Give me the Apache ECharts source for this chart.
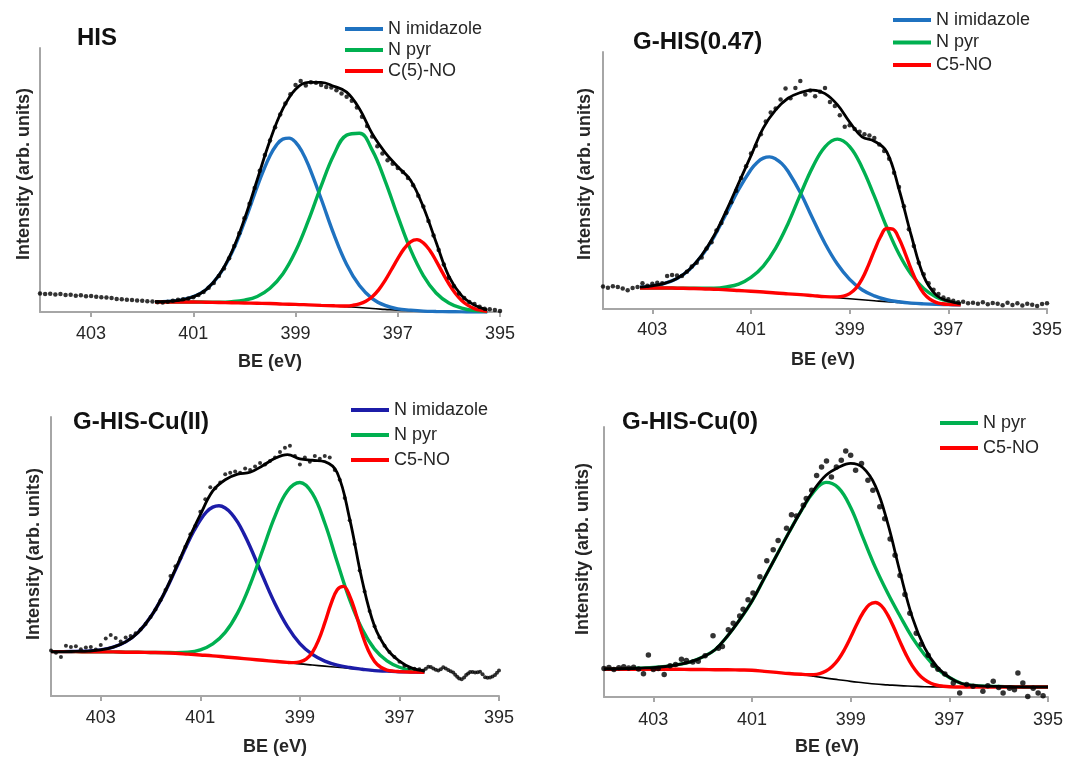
<!DOCTYPE html>
<html><head><meta charset="utf-8">
<script src="https://cdn.jsdelivr.net/npm/echarts@6/dist/echarts.min.js"></script>
<style>html,body{margin:0;padding:0;background:#fff}#c{width:1081px;height:757px}</style>
</head><body><div id="c"></div>
<script>
// ---------- DATA ----------
const tickValues = [395, 397, 399, 401, 403];
const panelTitles = ['HIS', 'G-HIS(0.47)', 'G-HIS-Cu(II)', 'G-HIS-Cu(0)'];
const xAxisName = 'BE (eV)';
const yAxisName = 'Intensity (arb. units)';

// Panel 1: HIS
const be1 = [401.75,401.5,401.25,401,400.75,400.5,400.25,400,399.75,399.5,399.25,399,398.75,398.5,398.25,398,397.75,397.5,397.25,397,396.75,396.5,396.25,396,395.75,395.5,395.25];
const bg1 = [3.8,3.8,3.8,3.8,3.7,3.6,3.5,3.4,3.3,3.2,3.0,2.9,2.7,2.5,2.3,2.0,1.7,1.3,1.0,0.7,0.5,0.3,0.2,0.1,0.05,0,0];
const imidX1 = [401.75,401.5,401.25,401,400.75,400.5,400.25,400,399.75,399.625,399.5,399.375,399.25,399.125,399,398.875,398.75,398.5,398.25,398,397.75,397.5,397.25,397,396.75,396.5,396.25,396,395.75,395.5,395.25];
const imid1 = [3.9,4.0,4.5,5.8,8.5,13.8,22.3,34.1,47.5,53.75,59.2,63.2,65.5,65.85,64.3,60.8,55.7,42.9,29.4,18.0,10.0,5.1,2.5,1.2,0.7,0.35,0.2,0.1,0.05,0,0];
const pyr1 = [3.8,3.8,3.8,3.8,3.75,3.7,3.9,4.5,5.9,9.0,14.4,23.0,34.6,47.7,59.6,67.0,67.7,61.3,49.8,36.3,23.6,13.8,7.2,3.4,1.45,0.5,0.17];
const noX1 = [401.75,401.5,401.25,401,400.75,400.5,400.25,400,399.75,399.5,399.25,399,398.75,398.5,398.25,398.125,398,397.875,397.75,397.625,397.5,397.375,397.25,397.125,397,396.875,396.75,396.625,396.5,396.375,396.25,396.125,396,395.875,395.75,395.625,395.5,395.375,395.25];
const no1 = [3.8,3.8,3.8,3.8,3.7,3.6,3.5,3.4,3.3,3.2,3.0,2.9,2.7,2.5,2.35,2.3,2.3,2.55,3.1,4.1,5.8,8.4,11.9,16.0,20.2,24.0,26.6,27.4,26.2,23.4,19.4,14.9,10.7,7.1,4.35,2.5,1.3,0.65,0.3];
const env1 = [3.9,4.0,4.5,5.8,8.5,13.9,22.7,35.2,50.1,65.0,76.9,84.4,87.0,87.0,85.5,83.3,77.0,67.5,60.5,55.0,49.9,39.8,26.4,13.5,6.2,2.6,0.8];
const dots1 = [[404.0,7.0],[403.9,6.8],[403.8,6.9],[403.7,6.6],[403.6,6.8],[403.5,6.4],[403.4,6.5],[403.3,6.2],[403.2,6.3],[403.1,6.0],[403.0,6.1],[402.9,5.8],[402.8,5.6],[402.7,5.5],[402.6,5.3],[402.5,4.9],[402.4,4.8],[402.3,4.6],[402.2,4.5],[402.1,4.4],[402.0,4.3],[401.9,4.1],[401.8,4.0],[401.7,3.7],[401.6,3.6],[401.5,3.9],[401.4,4.3],[401.3,4.6],[401.2,4.8],[401.1,5.1],[401.0,5.6],[400.9,6.4],[400.8,7.6],[400.7,9.2],[400.6,11.0],[400.5,13.6],[400.4,16.5],[400.3,20.4],[400.2,25.0],[400.1,29.8],[400.0,35.5],[399.9,41.0],[399.8,47.0],[399.7,53.5],[399.6,59.5],[399.5,65.0],[399.4,70.0],[399.3,74.8],[399.2,79.0],[399.1,82.5],[399.0,86.0],[398.9,87.5],[398.8,85.8],[398.7,87.0],[398.6,86.8],[398.5,86.0],[398.4,85.2],[398.3,85.0],[398.2,84.0],[398.1,82.8],[398.0,81.5],[397.9,80.0],[397.8,77.5],[397.7,74.0],[397.6,70.5],[397.5,66.5],[397.4,62.8],[397.3,60.0],[397.2,57.5],[397.1,56.2],[397.0,54.5],[396.9,53.0],[396.8,50.8],[396.7,48.0],[396.6,44.0],[396.5,40.0],[396.4,34.5],[396.3,29.0],[396.2,23.5],[396.1,18.0],[396.0,13.0],[395.9,9.8],[395.8,7.0],[395.7,5.3],[395.6,3.8],[395.5,3.0],[395.4,2.0],[395.3,1.2],[395.2,1.0],[395.1,0.8],[395.0,0.4]];

// Panel 2: G-HIS(0.47)
const be2 = [403.25,403,402.75,402.5,402.25,402,401.75,401.5,401.25,401,400.75,400.5,400.25,400,399.75,399.5,399.25,399,398.75,398.5,398.25,398,397.75,397.5,397.25,397,396.75];
const bg2 = [8.2,8.2,8.2,8.1,8.0,7.9,7.7,7.5,7.2,6.9,6.6,6.2,5.9,5.6,5.2,4.8,4.4,4.0,3.6,3.2,2.8,2.5,2.2,2.0,1.8,1.7,1.6];
const imidX2 = [403.25,403,402.75,402.5,402.25,402,401.75,401.5,401.25,401,400.875,400.75,400.625,400.5,400.375,400.25,400,399.75,399.5,399.25,399,398.75,398.5,398.25,398,397.75,397.5,397.25,397,396.75];
const imid2 = [8.5,9.0,10.0,11.9,15.3,20.7,28.1,37.2,46.5,54.3,57.05,58.7,59.2,58.4,56.55,53.6,45.3,35.2,25.5,17.5,11.5,7.5,5.1,3.6,2.8,2.3,2.0,1.8,1.7,1.6];
const pyr2 = [8.2,8.2,8.2,8.1,8.05,8.05,8.1,8.6,9.7,12.3,16.7,23.7,33.2,44.5,55.2,63.1,66.1,63.2,55.1,43.9,31.9,21.4,13.4,8.0,4.7,3.0,2.1];
const noX2 = [403.25,403,402.75,402.5,402.25,402,401.75,401.5,401.25,401,400.75,400.5,400.25,400,399.75,399.5,399.25,399.125,399,398.875,398.75,398.625,398.5,398.375,398.25,398.125,398,397.875,397.75,397.625,397.5,397.375,397.25,397.125,397,396.75];
const no2 = [8.2,8.2,8.2,8.1,8.0,7.9,7.7,7.5,7.2,6.9,6.6,6.2,5.9,5.6,5.2,4.8,4.7,5.0,6.0,8.0,11.6,16.8,22.7,28.1,31.3,31.05,27.4,21.65,15.3,10.0,6.1,3.8,2.6,2.05,1.8,1.6];
const env2 = [8.5,9.0,10.0,11.9,15.4,20.9,28.5,38.3,49.0,59.7,70.5,77.5,82.0,84.2,85.2,83.8,79.5,72.7,67.0,65.3,61.2,46.6,28.5,12.8,5.5,3.1,2.1];
const dots2 = [[404.0,8.8],[403.9,8.3],[403.8,8.9],[403.7,8.6],[403.6,8.0],[403.5,7.3],[403.4,8.2],[403.3,8.6],[403.2,10.0],[403.1,9.0],[403.0,9.8],[402.9,10.2],[402.8,10.0],[402.7,12.8],[402.6,13.2],[402.5,13.0],[402.4,12.8],[402.3,14.5],[402.2,16.5],[402.1,18.0],[402.0,20.0],[401.9,23.5],[401.8,26.0],[401.7,30.5],[401.6,33.5],[401.5,37.5],[401.4,41.5],[401.3,46.0],[401.2,51.0],[401.1,55.5],[401.0,60.5],[400.9,63.5],[400.8,68.0],[400.7,73.0],[400.6,76.5],[400.5,78.0],[400.4,81.5],[400.3,85.8],[400.2,82.0],[400.1,86.0],[400.0,88.7],[399.9,83.5],[399.8,85.0],[399.7,82.8],[399.6,84.5],[399.5,86.0],[399.4,80.5],[399.3,79.0],[399.2,75.4],[399.1,70.9],[399.0,71.5],[398.9,70.0],[398.8,69.0],[398.7,68.0],[398.6,67.5],[398.5,66.5],[398.4,64.0],[398.3,61.5],[398.2,58.5],[398.1,53.0],[398.0,47.5],[397.9,40.0],[397.8,31.0],[397.7,24.5],[397.6,18.0],[397.5,13.5],[397.4,10.0],[397.3,7.5],[397.2,5.8],[397.1,4.5],[397.0,3.8],[396.9,3.2],[396.8,2.6],[396.7,2.8],[396.6,2.2],[396.5,2.4],[396.4,2.0],[396.3,2.6],[396.2,1.8],[396.1,2.3],[396.0,2.0],[395.9,1.5],[395.8,2.4],[395.7,1.6],[395.6,2.2],[395.5,1.4],[395.4,2.0],[395.3,1.7],[395.2,1.2],[395.1,1.9],[395.0,2.2]];

// Panel 3: G-HIS-Cu(II)
const be3 = [404,403.75,403.5,403.25,403,402.75,402.5,402.25,402,401.75,401.5,401.25,401,400.75,400.5,400.25,400,399.75,399.5,399.25,399,398.75,398.5,398.25,398,397.75,397.5,397.25,397,396.75,396.5];
const bg3 = [15.9,15.9,15.9,15.8,15.8,15.8,15.7,15.7,15.6,15.5,15.3,15.0,14.7,14.4,14.0,13.6,13.2,12.8,12.4,12.0,11.5,11.1,10.7,10.3,9.9,9.5,9.1,8.9,8.7,8.6,8.5];
const imidX3 = [404,403.75,403.5,403.25,403,402.75,402.5,402.25,402,401.75,401.5,401.25,401.125,401,400.875,400.75,400.625,400.5,400.375,400.25,400.125,400,399.75,399.5,399.25,399,398.75,398.5,398.25,398,397.75,397.5,397.25,397,396.75,396.5];
const imid3 = [15.9,15.9,16.0,16.1,16.5,17.5,19.4,22.8,28.3,35.9,45.2,54.9,59.3,63.1,66.0,67.7,68.2,67.4,65.4,62.3,58.2,53.5,43.1,33.1,24.9,18.8,14.9,12.5,11.05,10.2,9.6,9.1,8.9,8.7,8.6,8.5];
const pyr3 = [15.9,15.9,15.9,15.8,15.8,15.8,15.7,15.7,15.6,15.6,15.55,15.7,16.55,18.7,22.8,29.8,39.9,52.2,64.5,73.5,76.5,72.6,62.0,48.0,34.5,24.0,16.8,12.6,10.3,9.2,8.7];
const noX3 = [404,403.75,403.5,403.25,403,402.75,402.5,402.25,402,401.75,401.5,401.25,401,400.75,400.5,400.25,400,399.75,399.5,399.25,399.125,399,398.875,398.75,398.625,398.5,398.375,398.25,398.125,398,397.875,397.75,397.625,397.5,397.375,397.25,397.125,397,396.75,396.5];
const no3 = [15.9,15.9,15.9,15.8,15.8,15.8,15.7,15.7,15.6,15.5,15.3,15.0,14.7,14.4,14.0,13.6,13.2,12.8,12.4,12.05,11.95,12.2,13.2,15.6,20.0,26.2,33.0,38.1,39.3,35.9,29.5,22.2,16.3,12.4,10.3,9.3,8.9,8.75,8.6,8.5];
const env3 = [15.9,15.9,16.0,16.1,16.5,17.5,19.4,22.8,28.3,36.0,45.5,55.6,65.0,73.5,77.5,79.5,80.2,82.5,85.2,86.5,85.0,84.5,84.0,80.0,63.5,41.5,25.0,16.8,12.5,10.0,9.0];
const dots3 = [[404.0,16.3],[403.9,15.5],[403.8,14.0],[403.7,18.0],[403.6,17.6],[403.5,17.8],[403.4,16.8],[403.3,17.4],[403.2,17.6],[403.1,16.7],[403.0,18.3],[402.9,20.6],[402.8,21.9],[402.7,20.8],[402.6,19.5],[402.5,21.0],[402.4,21.5],[402.3,22.5],[402.2,23.8],[402.1,25.8],[402.0,28.3],[401.9,31.0],[401.8,34.3],[401.7,38.0],[401.6,43.0],[401.5,46.5],[401.4,49.5],[401.3,53.5],[401.2,58.0],[401.1,61.0],[401.0,66.0],[400.9,70.5],[400.8,74.8],[400.7,74.5],[400.6,76.5],[400.5,79.5],[400.4,80.0],[400.3,80.5],[400.2,80.0],[400.1,81.5],[400.0,81.0],[399.9,82.3],[399.8,83.5],[399.7,83.0],[399.6,84.2],[399.5,85.5],[399.4,87.5],[399.3,89.0],[399.2,89.7],[399.1,86.0],[399.0,83.0],[398.9,85.5],[398.8,84.0],[398.7,86.0],[398.6,85.0],[398.5,86.0],[398.4,85.5],[398.3,81.0],[398.2,77.5],[398.1,71.0],[398.0,63.0],[397.9,54.5],[397.8,45.0],[397.7,37.5],[397.6,30.5],[397.5,25.0],[397.4,21.0],[397.3,18.0],[397.2,15.8],[397.1,14.0],[397.0,12.3],[396.9,10.8],[396.8,10.0],[396.7,9.8],[396.6,9.6],[396.52,9.1],[396.47,9.8],[396.42,10.5],[396.37,10.4],[396.32,9.9],[396.27,9.4],[396.22,9.1],[396.17,9.6],[396.12,10.3],[396.07,9.9],[396.02,9.3],[395.97,8.9],[395.92,8.4],[395.88,7.6],[395.84,6.9],[395.8,6.3],[395.75,6.0],[395.7,6.6],[395.66,7.5],[395.62,8.1],[395.58,8.6],[395.53,8.6],[395.48,8.4],[395.43,8.5],[395.38,8.7],[395.33,7.8],[395.28,6.7],[395.23,6.5],[395.18,6.6],[395.13,7.0],[395.08,7.5],[395.04,8.3],[395.0,9.1]];

// Panel 4: G-HIS-Cu(0)
const be4 = [404,403.75,403.5,403.25,403,402.75,402.5,402.25,402,401.75,401.5,401.25,401,400.75,400.5,400.25,400,399.75,399.5,399.25,399,398.75,398.5,398.25,398,397.75,397.5,397.25,397,396.75,396.5,396.25,396,395.75,395.5,395.25,395];
const bg4 = [10.3,10.3,10.3,10.3,10.3,10.3,10.3,10.2,10.2,10.1,10.1,10.0,9.9,9.5,9.1,8.7,8.3,7.7,7.0,6.4,5.8,5.3,4.8,4.5,4.2,4.0,3.8,3.75,3.7,3.7,3.7,3.7,3.7,3.7,3.7,3.7,3.7];
const pyr4 = [10.3,10.4,10.5,10.7,10.9,11.3,12.0,13.0,14.8,17.5,22.5,28.6,35.5,44.0,52.5,61.0,69.0,76.0,79.5,77.5,70.2,59.0,48.0,38.5,30.0,22.0,15.6,10.6,7.2,5.0,4.3,4.0,3.9,3.8,3.7,3.7,3.7];
const noX4 = [404,403.75,403.5,403.25,403,402.75,402.5,402.25,402,401.75,401.5,401.25,401,400.75,400.5,400.25,400,399.875,399.75,399.625,399.5,399.375,399.25,399.125,399,398.875,398.75,398.625,398.5,398.375,398.25,398.125,398,397.875,397.75,397.625,397.5,397.375,397.25,397.125,397,396.75,396.5,396.25,396,395.75,395.5,395.25,395];
const no4 = [10.3,10.3,10.3,10.3,10.3,10.3,10.3,10.2,10.2,10.1,10.1,10.0,9.9,9.5,9.1,8.7,8.4,8.3,8.3,8.65,9.6,11.3,13.9,17.6,22.1,26.95,31.2,34.15,35.0,33.75,30.4,25.75,20.5,15.6,11.5,8.5,6.4,5.1,4.35,4.0,3.8,3.7,3.7,3.7,3.7,3.7,3.7,3.7,3.7];
const env4 = [10.3,10.4,10.5,10.7,10.9,11.3,12.0,13.0,14.8,17.5,22.5,28.6,35.5,44.0,52.5,61.0,69.1,76.6,82.1,85.0,86.5,84.9,78.2,64.4,46.3,29.5,18.2,11.2,7.3,5.0,4.3,4.0,3.9,3.8,3.7,3.7,3.7];
const dots4 = [[404.0,10.6],[403.9,10.9],[403.8,10.2],[403.7,10.8],[403.6,11.2],[403.5,10.7],[403.4,11.0],[403.3,10.4],[403.2,8.6],[403.1,15.6],[403.0,10.2],[402.9,10.6],[402.78,8.3],[402.66,11.6],[402.55,12.0],[402.43,14.0],[402.33,13.5],[402.2,13.0],[402.09,13.2],[401.95,15.3],[401.79,22.7],[401.68,18.1],[401.6,18.7],[401.48,24.9],[401.38,27.3],[401.25,30.0],[401.18,32.5],[401.08,36.0],[400.98,38.5],[400.84,44.5],[400.7,50.5],[400.57,54.5],[400.47,58.0],[400.3,62.5],[400.2,67.5],[400.1,67.0],[399.96,71.0],[399.9,73.5],[399.79,76.6],[399.69,82.0],[399.59,85.2],[399.49,87.4],[399.39,81.5],[399.29,85.2],[399.19,87.7],[399.1,91.1],[399.0,89.5],[398.9,84.0],[398.78,86.5],[398.65,80.3],[398.55,76.6],[398.41,70.5],[398.31,66.0],[398.2,58.5],[398.1,52.5],[398.0,45.0],[397.9,38.0],[397.8,31.0],[397.67,23.6],[397.57,19.5],[397.43,15.5],[397.33,11.8],[397.23,10.3],[397.09,8.5],[396.92,5.2],[396.79,1.5],[396.65,4.6],[396.52,4.0],[396.32,2.1],[396.22,4.2],[396.11,5.8],[396.0,3.5],[395.91,1.5],[395.78,3.2],[395.68,2.7],[395.61,8.9],[395.51,5.2],[395.41,0.2],[395.3,3.2],[395.2,1.5],[395.1,0.5]];

// ---------- STYLE / LAYOUT ----------
const FONT = "'Liberation Sans', Arial, Helvetica, sans-serif";
const BLUE = '#1f72c0', NAVY = '#1c1ca8', GREEN = '#00b050', RED = '#ff0000';
const INK = '#262626', AXIS = '#a6a6a6';

const panels = [
  { grid:{left:40,top:48,width:460,height:264}, be:be1, bg:bg1, env:env1, dots:dots1, dotSize:4.5,
    comps:[{name:'N imidazole',color:BLUE,x:imidX1,data:imid1},{name:'N pyr',color:GREEN,data:pyr1},{name:'C(5)-NO',color:RED,x:noX1,data:no1}],
    title:{x:77,y:38}, legend:{left:345,top:20,gap:3}, xName:{x:270,y:362}, yName:{x:24,y:174}, margin:13 },
  { grid:{left:603,top:52,width:444,height:257}, be:be2, bg:bg2, env:env2, dots:dots2, dotSize:4.5,
    comps:[{name:'N imidazole',color:BLUE,x:imidX2,data:imid2},{name:'N pyr',color:GREEN,data:pyr2},{name:'C5-NO',color:RED,x:noX2,data:no2}],
    title:{x:633,y:42}, legend:{left:893,top:11,gap:4.5}, xName:{x:823,y:360}, yName:{x:585,y:174}, margin:12 },
  { grid:{left:51,top:417,width:448,height:279}, be:be3, bg:bg3, env:env3, dots:dots3, dotSize:4,
    comps:[{name:'N imidazole',color:NAVY,x:imidX3,data:imid3},{name:'N pyr',color:GREEN,data:pyr3},{name:'C5-NO',color:RED,x:noX3,data:no3}],
    title:{x:73,y:422}, legend:{left:351,top:401,gap:7}, xName:{x:275,y:747}, yName:{x:34,y:554}, margin:13 },
  { grid:{left:604,top:427,width:444,height:270}, be:be4, bg:bg4, env:env4, dots:dots4, dotSize:5.5,
    comps:[{name:'N pyr',color:GREEN,data:pyr4},{name:'C5-NO',color:RED,x:noX4,data:no4}],
    title:{x:622,y:422}, legend:{left:940,top:414,gap:7}, xName:{x:827,y:747}, yName:{x:583,y:549}, margin:14 }
];

const pairs = (xs, ys) => xs.map((x, i) => [x, ys[i]]);

const grid = [], xAxis = [], yAxis = [], series = [], legend = [], graphic = [];
panels.forEach((p, i) => {
  grid.push(Object.assign({containLabel:false}, p.grid));
  xAxis.push({
    gridIndex:i, type:'value', min:395, max:404, inverse:true,
    axisLine:{show:true, onZero:false, lineStyle:{color:AXIS, width:2}},
    axisTick:{show:true, customValues:tickValues, length:5, lineStyle:{color:AXIS, width:2}},
    axisLabel:{customValues:tickValues, margin:p.margin, fontSize:18, color:INK, fontFamily:FONT},
    splitLine:{show:false}
  });
  yAxis.push({
    gridIndex:i, type:'value', min:0, max:100,
    axisLine:{show:true, onZero:false, lineStyle:{color:AXIS, width:2}},
    axisTick:{show:false}, axisLabel:{show:false}, splitLine:{show:false}
  });
  series.push({type:'line', name:'background', xAxisIndex:i, yAxisIndex:i, data:pairs(p.be, p.bg),
    showSymbol:false, smooth:0.4, z:2, lineStyle:{color:'#000', width:1.6}, itemStyle:{color:'#000'}, silent:true});
  p.comps.forEach(c => {
    series.push({type:'line', name:c.name, xAxisIndex:i, yAxisIndex:i, data:pairs(c.x || p.be, c.data),
      showSymbol:false, smooth:0.4, z:3, color:c.color, lineStyle:{color:c.color, width:3.4}, itemStyle:{color:c.color}});
  });
  series.push({type:'line', name:'envelope', xAxisIndex:i, yAxisIndex:i, data:pairs(p.be, p.env),
    showSymbol:false, smooth:0.4, z:4, lineStyle:{color:'#000', width:2.8}, itemStyle:{color:'#000'}});
  series.push({type:'scatter', name:'data', xAxisIndex:i, yAxisIndex:i, data:p.dots,
    symbol:'circle', symbolSize:p.dotSize, z:5, itemStyle:{color:'#000'}});
  legend.push({
    left:p.legend.left, top:p.legend.top, orient:'vertical', padding:0,
    itemWidth:38, itemHeight:4, itemGap:p.legend.gap, icon:'rect', selectedMode:false,
    textStyle:{fontSize:18, lineHeight:18, color:INK, fontFamily:FONT},
    data:p.comps.map(c => ({name:c.name, icon:'rect', itemStyle:{color:c.color}}))
  });
  graphic.push({type:'text', x:p.title.x, y:p.title.y,
    style:{text:panelTitles[i], font:'bold 24px ' + FONT, fill:'#111', textAlign:'left', textVerticalAlign:'middle'}});
  graphic.push({type:'text', x:p.xName.x, y:p.xName.y,
    style:{text:xAxisName, font:'bold 18px ' + FONT, fill:INK, textAlign:'center', textVerticalAlign:'middle'}});
  graphic.push({type:'text', x:p.yName.x, y:p.yName.y, rotation:Math.PI/2,
    style:{text:yAxisName, font:'bold 18px ' + FONT, fill:INK, textAlign:'center', textVerticalAlign:'middle'}});
});

const chart = echarts.init(document.getElementById('c'), null, {renderer:'canvas'});
chart.setOption({animation:false, backgroundColor:'#fff', grid, xAxis, yAxis, series, legend, graphic});
</script></body></html>
